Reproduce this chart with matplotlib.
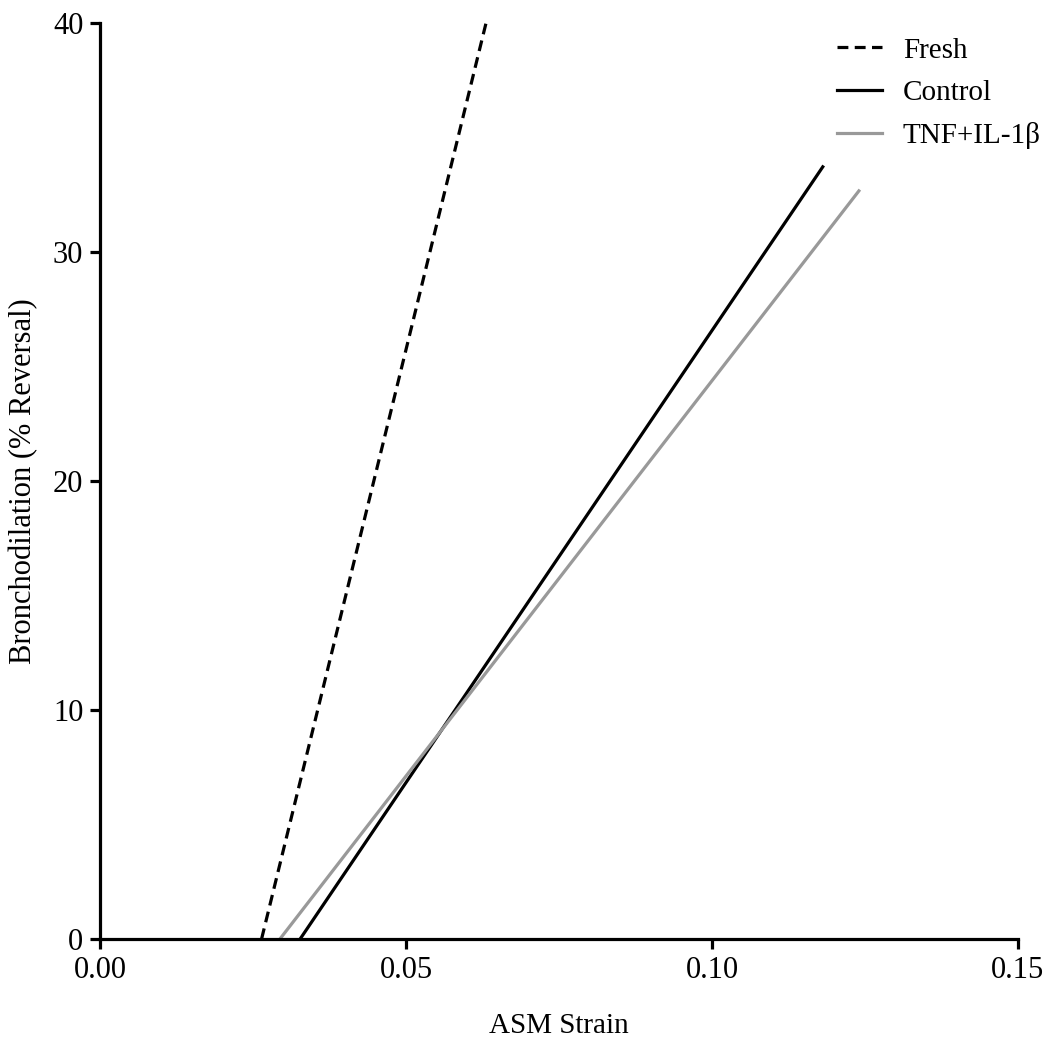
import matplotlib
matplotlib.use("Agg")
import matplotlib.pyplot as plt

plt.rcParams['font.family'] = ['Liberation Serif', 'DejaVu Serif']

series_names = ["Fresh", "Control", "TNF+IL-1β"]
fresh_x = [0.0264, 0.0631]
fresh_y = [0, 40]
control_x = [0.0327, 0.1181]
control_y = [0, 33.7]
tnf_x = [0.0294, 0.1240]
tnf_y = [0, 32.65]
xticks = [0.00, 0.05, 0.10, 0.15]
xtick_labels = ["0.00", "0.05", "0.10", "0.15"]
yticks = [0, 10, 20, 30, 40]

fig = plt.figure(figsize=(10.48, 10.45), dpi=100)
ax = fig.add_axes([100/1048, 1 - 939/1045, 918/1048, (939-22.5)/1045])

ax.plot(fresh_x, fresh_y, color='black', lw=2.3, ls=(0, (3.4, 2.0)), label=series_names[0])
ax.plot(control_x, control_y, color='black', lw=2.3, label=series_names[1])
ax.plot(tnf_x, tnf_y, color='#999999', lw=2.3, label=series_names[2])

ax.set_xlim(0, 0.15)
ax.set_ylim(0, 40)
ax.set_xticks(xticks)
ax.set_xticklabels(xtick_labels)
ax.set_yticks(yticks)
for s in ['top', 'right']:
    ax.spines[s].set_visible(False)
for s in ['left', 'bottom']:
    ax.spines[s].set_linewidth(2.3)
ax.tick_params(axis='both', direction='out', length=7, width=2.3, labelsize=22, pad=5)
ax.set_xlabel("ASM Strain", fontsize=21)
ax.xaxis.set_label_coords(0.5, -(1013 - 939) / 916.5)
ax.set_ylabel("Bronchodilation (% Reversal)", fontsize=22)
ax.yaxis.set_label_coords((38 - 100) / 918, 0.5)

ax.legend(loc='upper left', frameon=False, fontsize=21, handlelength=1.55,
          handletextpad=0.7, borderpad=0, borderaxespad=0,
          bbox_to_anchor=(0.803, 0.984), labelspacing=0.55)

fig.savefig("out.png", dpi=100)
